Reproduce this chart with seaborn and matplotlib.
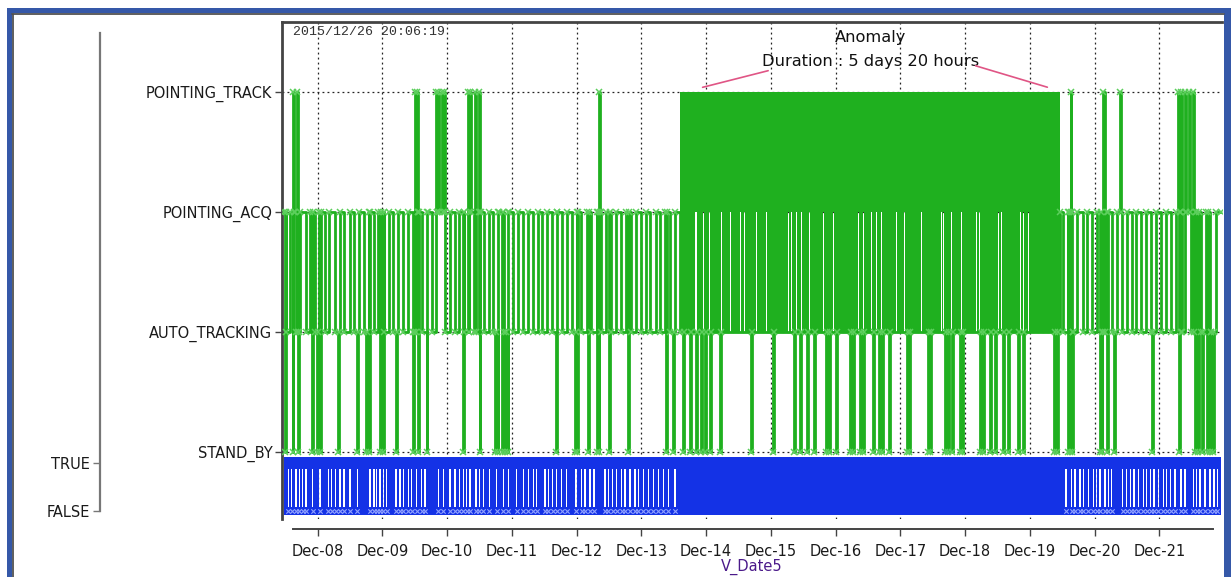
import numpy as np
import pandas as pd
import matplotlib
matplotlib.use("Agg")
import matplotlib.pyplot as plt
import matplotlib.dates as mdates
from matplotlib.patches import Rectangle
from matplotlib.lines import Line2D
import seaborn as sns

sns.set_style("white")
plt.rcParams["font.family"] = ["DejaVu Sans"]

# ---------------- data (hours after 2015-12-07 00:00) ----------------
T0 = pd.Timestamp("2015-12-07 00:00")
STATES = ["STAND_BY", "AUTO_TRACKING", "POINTING_ACQ", "POINTING_TRACK"]
BOOL_LABELS = ["FALSE", "TRUE"]

signal_start_h = 11.6
signal_end_h = 358.8
anomaly_start_h = 158.3
anomaly_end_h = 299.3
dip_len_h = 0.35
spike_len_h = 0.45

acq_auto_toggle_h = [
    12.4, 13.9, 15.8, 17.5, 19.6, 21.0, 23.1, 24.6, 26.8, 28.3, 30.4, 32.1,
    33.7, 35.9, 37.6, 39.2, 41.3, 42.9, 44.9, 46.5, 48.6, 50.3, 52.0, 53.9,
    55.8, 57.4, 59.3, 61.1, 62.8, 64.7, 66.5, 68.2, 71.3, 72.9, 74.8, 76.4,
    78.4, 80.1, 81.9, 83.8, 85.5, 87.5, 89.1, 91.0, 92.9, 94.5, 96.5, 98.2,
    100.1, 101.8, 103.7, 105.6, 107.3, 109.1, 111.0, 112.7, 114.6, 116.4,
    118.1, 120.1, 121.8, 123.7, 125.4, 127.4, 129.1, 131.0, 132.7, 134.7,
    136.4, 138.3, 140.1, 142.0, 143.7, 145.6, 147.3, 149.3, 151.0, 152.9,
    154.6, 156.6,
    300.3, 302.0, 303.9, 305.6, 307.6, 309.3, 311.2, 312.9, 314.9, 316.6,
    318.5, 320.3, 322.1, 323.9, 325.8, 327.5, 329.4, 331.2, 333.0, 334.9,
    336.7, 338.5, 340.3, 342.2, 344.0, 345.8, 347.7, 349.5, 351.3, 353.2,
    355.0, 356.9,
]

standby_dip_h = [
    11.9, 14.8, 16.7, 21.9, 23.7, 24.7, 31.5, 38.6, 41.9, 43.0, 47.1, 48.2,
    53.0, 59.3, 61.2, 64.5, 77.9, 84.2, 89.7, 90.9, 92.3, 93.4, 94.4, 112.4,
    119.4, 120.1, 124.2, 127.6, 128.3, 132.0, 139.0, 153.1, 155.7,
    159.4, 162.0, 164.3, 166.1, 167.6, 169.4, 173.2, 184.6, 192.8, 200.6,
    202.8, 205.4, 208.0, 212.6, 213.4, 216.2, 221.4, 222.5, 225.1, 226.2,
    229.9, 232.1, 233.2, 235.8, 242.5, 243.2, 250.3, 251.0, 256.6, 257.7,
    259.2, 262.1, 262.9, 269.5, 270.7, 273.3, 275.1, 278.1, 279.9, 283.6,
    285.5, 297.0, 298.1,
    302.2, 302.9, 303.7, 314.0, 314.8, 316.6, 319.2, 333.3, 343.3, 349.3,
    350.4, 351.9, 353.7, 354.8, 355.9,
]

track_spike_h = [
    15.0, 16.2, 60.1, 60.7, 67.8, 68.7, 70.0, 70.8, 79.6, 80.5, 82.3, 83.9,
    128.4, 303.2, 315.3, 321.5, 343.1, 344.1, 345.5, 347.1, 348.4,
]

anomaly_quiet_h = [
    163.9, 164.5, 167.0, 169.4, 173.8, 176.9, 180.6, 182.4, 186.8, 190.5,
    198.5, 199.7, 201.6, 203.4, 206.5, 211.5, 215.2, 224.4, 226.3, 229.4,
    231.2, 233.1, 238.7, 241.7, 247.9, 255.3, 255.9, 259.1, 262.8, 268.3,
    269.5, 276.3, 277.6, 284.4, 285.6, 287.5,
]

flag_quiet_h = [
    13.1, 14.4, 16.0, 17.2, 18.4, 19.7, 22.1, 24.9, 27.9, 29.2, 30.7, 32.3,
    33.8, 36.0, 38.7, 43.4, 44.9, 45.9, 47.1, 48.3, 49.6, 53.0, 54.5, 55.7,
    57.6, 58.8, 60.7, 62.6, 63.8, 68.7, 70.6, 73.1, 74.9, 76.5, 78.0, 79.2,
    80.5, 82.7, 83.9, 85.4, 87.6, 90.4, 92.8, 94.7, 97.8, 100.2, 102.1,
    103.9, 105.2, 108.3, 109.5, 111.1, 112.6, 114.5, 116.3, 119.8, 121.9,
    123.1, 125.0, 126.4, 130.5, 131.7, 133.4, 134.8, 136.7, 137.9, 139.8,
    141.6, 142.9, 144.7, 146.6, 148.4, 150.3, 152.1, 154.0, 156.5,
    301.4, 303.5, 304.8, 306.6, 307.8, 309.7, 311.5, 312.8, 314.0, 315.9,
    317.1, 318.4, 322.4, 323.9, 325.4, 326.6, 328.2, 330.1, 331.3, 332.8,
    334.0, 335.6, 337.5, 338.8, 340.2, 341.8, 344.0, 345.5, 348.6, 349.9,
    351.1, 353.0, 354.8, 356.3, 357.5,
]

# ---------------- styling ----------------
W, H = 1231, 577
GREEN = "#1fb01f"
GREEN_MK = "#5ccf5c"
BLUE = "#1432e6"
FRAME = "#3558a8"
PINK = "#e05585"
AXC = "#444444"
LEVEL = {s: i + 1 for i, s in enumerate(STATES)}
BOOL_LEVEL = {"FALSE": 0.51, "TRUE": 0.905}


def tn(h):
    return mdates.date2num((T0 + pd.to_timedelta(np.asarray(h, dtype=float), unit="h")).to_pydatetime())


def fx(px):
    return px / W


def fy(py):
    return 1 - py / H


fig = plt.figure(figsize=(W / 100, H / 100), dpi=100)
fig.patch.set_facecolor("white")

ax = fig.add_axes([fx(282), fy(519), fx(1222) - fx(282), fy(22) - fy(519)])
ax.set_facecolor("white")

# ---- state sequence (green) ----
toggles = np.array(sorted(acq_auto_toggle_h))


def base_state(h):
    if anomaly_start_h <= h < anomaly_end_h:
        return "AUTO_TRACKING"
    n = np.searchsorted(toggles, h, side="right")
    return "POINTING_ACQ" if n % 2 == 0 else "AUTO_TRACKING"


ev = [(signal_start_h, base_state(signal_start_h))]
for h in toggles:
    ev.append((h, base_state(h)))
ev.append((anomaly_start_h, "AUTO_TRACKING"))
ev.append((anomaly_end_h, base_state(anomaly_end_h)))
for h in standby_dip_h:
    ev.append((h, "STAND_BY"))
    ev.append((h + dip_len_h, base_state(h + dip_len_h)))
for h in track_spike_h:
    ev.append((h, "POINTING_TRACK"))
    ev.append((h + spike_len_h, base_state(h + spike_len_h)))
ev.append((signal_end_h, base_state(signal_end_h)))
ev.sort(key=lambda e: e[0])

df = pd.DataFrame({
    "time": T0 + pd.to_timedelta([e[0] for e in ev], unit="h"),
    "level": [LEVEL[e[1]] for e in ev],
})

# dense toggling during the anomaly
ax.fill_between(tn([anomaly_start_h, anomaly_end_h]), LEVEL["POINTING_ACQ"],
                LEVEL["POINTING_TRACK"], color=GREEN, lw=0, zorder=2.5)
g = 0.2
edges = [anomaly_start_h] + list(anomaly_quiet_h) + [anomaly_end_h]
for i, (a, b) in enumerate(zip(edges[:-1], edges[1:])):
    a2 = a if i == 0 else a + g
    b2 = b if i == len(edges) - 2 else b - g
    ax.fill_between(tn([a2, b2]), LEVEL["AUTO_TRACKING"], LEVEL["POINTING_ACQ"],
                    color=GREEN, lw=0, zorder=2.5)

sns.lineplot(data=df, x="time", y="level", ax=ax, estimator=None, sort=False,
             drawstyle="steps-post", color=GREEN, lw=2.0, marker="x",
             markersize=5, mec=GREEN_MK, mew=1.1, zorder=3)

# ---- flag signal (blue) ----
gb = 0.25
edges = [signal_start_h] + list(flag_quiet_h) + [signal_end_h]
for i, (a, b) in enumerate(zip(edges[:-1], edges[1:])):
    a2 = a if i == 0 else a + gb
    b2 = b if i == len(edges) - 2 else b - gb
    ax.fill_between(tn([a2, b2]), BOOL_LEVEL["FALSE"], BOOL_LEVEL["TRUE"],
                    color=BLUE, lw=0, zorder=2.5)
ax.fill_between(tn([signal_start_h, signal_end_h]), BOOL_LEVEL["TRUE"] - 0.05,
                BOOL_LEVEL["TRUE"] + 0.05, color=BLUE, lw=0, zorder=2.6)
ax.fill_between(tn([signal_start_h, signal_end_h]), BOOL_LEVEL["FALSE"] - 0.035,
                BOOL_LEVEL["FALSE"] + 0.035, color=BLUE, lw=0, zorder=2.6)
qdf = pd.DataFrame({"time": T0 + pd.to_timedelta(flag_quiet_h, unit="h"),
                    "v": BOOL_LEVEL["FALSE"]})
sns.scatterplot(data=qdf, x="time", y="v", ax=ax, marker="x", s=10,
                color="#8fa0ff", linewidth=0.8, zorder=2.7, legend=False)

# ---- axes ----
ax.set_xlim(tn(10.77), tn(359.26))
ax.set_ylim(0.442, 4.583)
ax.set_yticks([LEVEL[s] for s in STATES], labels=STATES)
ax.xaxis.set_major_locator(mdates.DayLocator())
ax.xaxis.set_major_formatter(mdates.DateFormatter("%b-%d"))
ax.set_ylabel("")
ax.set_xlabel("V_Date5", color="#4b1a8a", fontsize=10.5)
ax.xaxis.set_label_coords(0.5, -0.080)

ax.grid(True, axis="both", color="#222222", ls=(0, (1.5, 2.5)), lw=0.9)
ax.set_axisbelow(True)

ax.spines["right"].set_visible(False)
for s in ("top", "left"):
    ax.spines[s].set_color(AXC)
    ax.spines[s].set_linewidth(2)
ax.spines["bottom"].set_position(("outward", 7))
ax.spines["bottom"].set_bounds(tn(14.96), tn(355.9))
ax.spines["bottom"].set_color(AXC)
ax.spines["bottom"].set_linewidth(1.4)

ax.tick_params(axis="y", left=True, length=5, width=1, color=AXC, pad=2,
               labelsize=10.5, labelcolor="#1a1a1a")
ax.tick_params(axis="x", bottom=True, length=5, width=1, color=AXC, pad=6,
               labelsize=10.5, labelcolor="#1a1a1a")

# annotation
mid = (anomaly_start_h + anomaly_end_h) / 2
ax.text(tn(mid), 4.458, "Anomaly", ha="center", va="center", fontsize=11.7,
        color="#111111")
ax.text(tn(mid), 4.258, "Duration : 5 days 20 hours", ha="center", va="center",
        fontsize=11.7, color="#111111")
ax.annotate("", xy=(tn(165.7), 4.033), xytext=(tn(192.0), 4.183),
            arrowprops=dict(arrowstyle="-", color=PINK, lw=1.2))
ax.annotate("", xy=(tn(295.5), 4.033), xytext=(tn(266.9), 4.225),
            arrowprops=dict(arrowstyle="-", color=PINK, lw=1.2))

fig.text(fx(293), fy(32), "2015/12/26 20:06:19", family="Liberation Mono",
         fontsize=9.5, color="#333333", ha="left", va="center")

# TRUE / FALSE axis
ax2 = fig.add_axes([fx(100), fy(519), 0.0005, fy(22) - fy(519)])
ax2.set_ylim(ax.get_ylim())
ax2.patch.set_visible(False)
for s in ("top", "right", "bottom"):
    ax2.spines[s].set_visible(False)
ax2.spines["left"].set_color("#777777")
ax2.spines["left"].set_linewidth(1.6)
ax2.spines["left"].set_bounds(BOOL_LEVEL["FALSE"], 4.49)
ax2.set_xticks([])
ax2.set_yticks([BOOL_LEVEL[b] for b in BOOL_LABELS], labels=BOOL_LABELS)
ax2.tick_params(axis="y", left=True, length=5, width=1, color="#777777", pad=2,
                labelsize=10.5, labelcolor="#1a1a1a")

# outer frame
fig.add_artist(Rectangle((fx(7), 0), fx(12) - fx(7), fy(8), transform=fig.transFigure,
                         color=FRAME, lw=0))
fig.add_artist(Rectangle((fx(7), fy(13)), 1 - fx(7), fy(8) - fy(13),
                         transform=fig.transFigure, color=FRAME, lw=0))
fig.add_artist(Rectangle((fx(1224), 0), 1 - fx(1224), fy(8), transform=fig.transFigure,
                         color=FRAME, lw=0))
fig.add_artist(Line2D([fx(12), fx(1224)], [fy(14), fy(14)], transform=fig.transFigure,
                      color="#505050", lw=1.3))
fig.add_artist(Line2D([fx(13), fx(13)], [0, fy(14)], transform=fig.transFigure,
                      color="#505050", lw=1.3))

fig.savefig("out.png", dpi=100)
